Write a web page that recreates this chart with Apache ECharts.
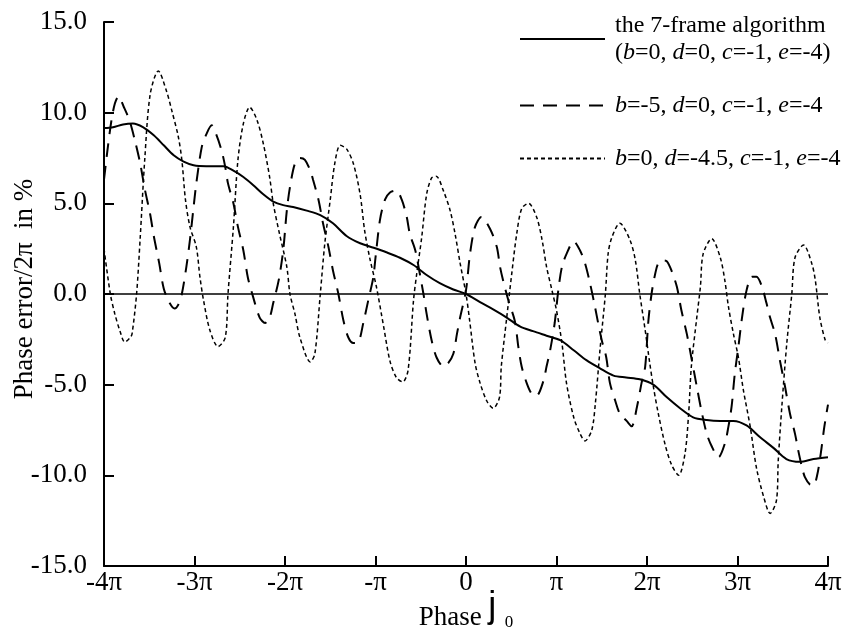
<!DOCTYPE html>
<html>
<head>
<meta charset="utf-8">
<script src="https://cdn.jsdelivr.net/npm/echarts@6/dist/echarts.min.js"></script>
<style>html,body{margin:0;padding:0;background:#fff}#c{width:846px;height:641px}</style>
</head>
<body>
<div id="c"></div>
<script>
// x values are in units of pi
const xTickLabels = ['-4π','-3π','-2π','-π','0','π','2π','3π','4π'];
const yTickLabels = ['-15.0','-10.0','-5.0','0.0','5.0','10.0','15.0'];
const seriesNames = ['the 7-frame algorithm', 'b=-5, d=0, c=-1, e=-4', 'b=0, d=-4.5, c=-1, e=-4'];

const solidX = [-4,-3.9,-3.79,-3.68,-3.57,-3.45,-3.34,-3.23,-3.12,-3.01,-2.87,-2.68,-2.57,-2.46,-2.35,-2.24,-2.13,-2.02,-1.91,-1.76,-1.61,-1.47,-1.32,-1.17,-1.02,-0.88,-0.73,-0.58,-0.435,-0.29,-0.14,0,0.155,0.3,0.45,0.6,0.74,0.89,1.04,1.19,1.33,1.48,1.63,1.77,1.92,2.07,2.22,2.365,2.51,2.66,2.81,2.955,3.1,3.25,3.4,3.54,3.69,3.84,4];
const solidY = [9.15,9.2,9.35,9.4,9.2,8.75,8.2,7.65,7.3,7.1,7.05,7.05,6.8,6.45,6.0,5.5,5.1,4.9,4.8,4.6,4.35,3.9,3.2,2.8,2.55,2.3,2.0,1.6,1.05,0.6,0.25,0,-0.45,-0.85,-1.3,-1.8,-2.05,-2.3,-2.55,-3.1,-3.65,-4.1,-4.5,-4.6,-4.7,-5.0,-5.7,-6.3,-6.8,-6.95,-7.0,-7.0,-7.25,-7.9,-8.5,-9.1,-9.25,-9.1,-9.0];

const dashX = [-4,-3.96,-3.92,-3.88,-3.84,-3.78,-3.72,-3.66,-3.6,-3.55,-3.49,-3.45,-3.39,-3.34,-3.28,-3.22,-3.18,-3.14,-3.09,-3.05,-3.01,-2.98,-2.92,-2.87,-2.81,-2.76,-2.7,-2.66,-2.63,-2.57,-2.52,-2.46,-2.41,-2.35,-2.28,-2.22,-2.17,-2.13,-2.07,-2.02,-1.98,-1.945,-1.89,-1.835,-1.78,-1.72,-1.69,-1.63,-1.58,-1.52,-1.47,-1.41,-1.355,-1.3,-1.245,-1.19,-1.135,-1.08,-1.025,-1.0,-0.95,-0.895,-0.84,-0.77,-0.71,-0.655,-0.62,-0.56,-0.51,-0.47,-0.435,-0.38,-0.325,-0.25,-0.195,-0.14,-0.1,-0.065,0,0.044,0.1,0.17,0.265,0.34,0.376,0.41,0.468,0.54,0.578,0.615,0.67,0.726,0.78,0.855,0.89,0.93,0.98,1.02,1.06,1.11,1.19,1.26,1.315,1.37,1.425,1.46,1.5,1.55,1.59,1.65,1.7,1.775,1.83,1.89,1.94,1.98,2.015,2.05,2.09,2.125,2.18,2.22,2.27,2.33,2.38,2.44,2.49,2.55,2.6,2.66,2.715,2.79,2.86,2.9,2.935,2.97,3.01,3.05,3.1,3.16,3.21,3.27,3.32,3.36,3.415,3.47,3.525,3.58,3.635,3.67,3.71,3.745,3.8,3.84,3.88,3.92,3.96,4];
const dashY = [6.3,8.0,9.5,10.5,10.9,10.3,9.6,8.5,7.2,5.8,4.4,3.2,1.7,0.3,-0.45,-0.8,-0.6,0,1.5,3.0,4.8,6.1,8.1,8.8,9.3,8.8,7.9,7.0,6.1,5.0,3.7,2.4,0.9,-0.2,-1.3,-1.6,-1.3,-0.5,0.75,2.4,4.6,5.9,7.2,7.5,7.4,6.8,6.3,5.2,3.9,2.6,1.3,0,-1.45,-2.4,-2.7,-2.65,-1.6,-0.35,0.9,2.0,4.1,5.2,5.6,5.7,5.2,4.25,3.3,2.4,1.1,0,-1.1,-2.55,-3.5,-4.0,-3.8,-3.3,-2.2,-1.3,0.2,2.2,3.7,4.25,3.6,2.6,1.5,0.75,-0.35,-1.5,-2.9,-4.0,-4.9,-5.5,-5.6,-4.8,-4.0,-3.1,-1.6,0.2,1.5,2.2,2.9,2.4,1.7,0.6,-0.7,-1.6,-2.55,-3.5,-4.9,-5.9,-6.6,-7.0,-7.3,-6.2,-4.9,-4.0,-1.5,0,1.1,1.7,1.85,1.8,1.3,0.4,-0.9,-2.2,-3.5,-5.1,-6.4,-7.7,-8.4,-9.0,-8.25,-7.3,-6.2,-4.4,-2.9,-1.3,0.2,0.95,0.95,0.4,-0.5,-1.3,-2.2,-3.7,-5.1,-6.6,-7.7,-8.6,-9.5,-10.1,-10.5,-10.55,-10.0,-8.8,-7.3,-6.1];

const dotX = [-4,-3.93,-3.88,-3.82,-3.77,-3.71,-3.69,-3.64,-3.6,-3.55,-3.49,-3.4,-3.31,-3.25,-3.18,-3.14,-3.1,-3.05,-2.98,-2.94,-2.9,-2.83,-2.74,-2.66,-2.63,-2.57,-2.52,-2.46,-2.39,-2.31,-2.24,-2.17,-2.13,-2.06,-1.98,-1.945,-1.89,-1.835,-1.72,-1.67,-1.61,-1.56,-1.5,-1.45,-1.39,-1.32,-1.245,-1.17,-1.12,-1.06,-0.99,-0.91,-0.84,-0.77,-0.7,-0.64,-0.58,-0.545,-0.49,-0.435,-0.38,-0.33,-0.25,-0.175,-0.12,-0.065,0,0.04,0.1,0.155,0.23,0.3,0.37,0.39,0.45,0.505,0.56,0.615,0.69,0.78,0.84,0.89,0.95,1.0,1.06,1.11,1.19,1.26,1.315,1.39,1.43,1.48,1.54,1.57,1.61,1.7,1.81,1.87,1.92,1.98,2.03,2.07,2.125,2.2,2.27,2.35,2.42,2.46,2.49,2.55,2.59,2.62,2.715,2.81,2.86,2.9,2.955,3.01,3.065,3.14,3.21,3.29,3.36,3.43,3.45,3.49,3.545,3.6,3.635,3.73,3.82,3.86,3.91,3.97,4];
const dotY = [2.5,0,-1.1,-2.1,-2.65,-2.4,-2.2,0,3.1,7.4,11.0,12.3,11.2,10.1,8.7,7.4,5.2,3.7,2.6,0.94,-0.35,-2.0,-2.9,-2.4,0,3.7,7.4,9.4,10.3,9.6,8.3,6.45,5.0,3.3,1.5,0,-1.1,-2.4,-3.75,-3.3,0,2.8,5.2,7.2,8.2,8.0,7.2,5.5,3.5,1.9,0.4,-1.8,-3.7,-4.6,-4.85,-4.2,-0.35,1.1,3.1,5.5,6.4,6.5,5.7,4.6,3.3,1.7,0,-1.45,-3.8,-4.9,-5.9,-6.3,-5.7,-4.0,-1.3,1.1,3.3,4.7,5.0,4.25,3.0,1.5,0.2,-0.9,-2.7,-4.9,-6.8,-7.7,-8.1,-7.5,-6.0,-3.1,0,2.2,3.1,3.9,3.0,1.9,0,-2.0,-3.8,-5.1,-6.6,-8.3,-9.4,-10.0,-8.8,-6.6,-4.0,-1.3,0.4,2.2,3.05,2.0,0.75,-0.7,-2.2,-3.5,-5.3,-7.3,-9.6,-11.2,-12.1,-11.4,-9.2,-6.2,-2.7,0,2.0,2.7,1.7,0.75,-1.3,-2.55,-2.7];

function zip(xs, ys) { return xs.map((x, i) => [x, ys[i]]); }

const serif = 'Liberation Serif';
const chart = echarts.init(document.getElementById('c'), null, {renderer: 'canvas'});

const legendRich = {
  t: {fontFamily: serif, fontSize: 24, lineHeight: 27, color: '#000'},
  i: {fontFamily: serif, fontSize: 24, lineHeight: 27, fontStyle: 'italic', color: '#000'}
};
function italicize(s) {
  return s.replace(/([bdce])=/g, '{i|$1}{t|=}').replace(/(^|\})([^{}]+)(?=\{|$)/g, (m, a, b) => a + '{t|' + b + '}');
}

const option = {
  animation: false,
  backgroundColor: '#fff',
  grid: {left: 104, right: 18, top: 22, bottom: 75, outerBoundsMode: 'none', containLabel: false},
  legend: {
    orient: 'vertical',
    left: 519,
    top: 12,
    padding: 0,
    itemWidth: 85,
    itemHeight: 2,
    itemGap: 26,
    itemStyle: {opacity: 0},
    data: seriesNames,
    textStyle: {fontFamily: serif, fontSize: 24, lineHeight: 27, color: '#000', padding: [0, 0, 0, 5], rich: legendRich},
    formatter: function (name) {
      if (name === seriesNames[0]) {
        return '{t|the 7-frame algorithm}\n{t|(}' + italicize('b=0, d=0, c=-1, e=-4') + '{t|)}';
      }
      return italicize(name);
    }
  },
  xAxis: {
    type: 'value', min: -4, max: 4, interval: 1,
    name: '{a|Phase }{j|j}{s|  0}',
    nameLocation: 'middle', nameGap: 23, nameMoveOverlap: false,
    nameTextStyle: {
      rich: {
        a: {fontFamily: serif, fontSize: 27, color: '#000', verticalAlign: 'bottom'},
        j: {fontFamily: 'Liberation Sans', fontSize: 36, color: '#000', verticalAlign: 'bottom', padding: [0, 0, 6, 0]},
        s: {fontFamily: serif, fontSize: 17, color: '#000', verticalAlign: 'bottom'}
      }
    },
    axisLine: {onZero: false, lineStyle: {color: '#000', width: 2}},
    axisTick: {inside: true, length: 10, lineStyle: {color: '#000', width: 2}},
    splitLine: {show: false},
    axisLabel: {
      margin: 3, color: '#000', fontFamily: serif, fontSize: 27,
      formatter: v => xTickLabels[Math.round(v) + 4]
    }
  },
  yAxis: {
    type: 'value', min: -15, max: 15, interval: 5,
    name: 'Phase error/2π  in %',
    nameLocation: 'middle', nameGap: 66, nameMoveOverlap: false,
    nameTextStyle: {fontFamily: serif, fontSize: 27, color: '#000', padding: [0, 0, 0, 10]},
    axisLine: {show: true, onZero: false, lineStyle: {color: '#000', width: 2}},
    axisTick: {show: true, inside: true, length: 10, lineStyle: {color: '#000', width: 2}},
    splitLine: {show: false},
    axisLabel: {
      margin: 17, color: '#000', fontFamily: serif, fontSize: 27,
      formatter: v => yTickLabels[Math.round((v + 15) / 5)]
    }
  },
  series: [
    {
      name: seriesNames[0], type: 'line', data: zip(solidX, solidY), smooth: 0.3,
      symbol: 'none', color: '#000', lineStyle: {color: '#000', width: 2, type: 'solid'},
      markLine: {
        silent: true, symbol: ['none', 'none'], label: {show: false},
        lineStyle: {color: '#000', width: 1.5, type: 'solid'},
        data: [{yAxis: 0}]
      }
    },
    {
      name: seriesNames[1], type: 'line', data: zip(dashX, dashY), smooth: 0.3,
      symbol: 'none', color: '#000', lineStyle: {color: '#000', width: 2, type: [14, 9]}
    },
    {
      name: seriesNames[2], type: 'line', data: zip(dotX, dotY), smooth: 0.3,
      symbol: 'none', color: '#000', lineStyle: {color: '#000', width: 1.5, type: [4, 3]}
    }
  ]
};
chart.setOption(option);
</script>
</body>
</html>
